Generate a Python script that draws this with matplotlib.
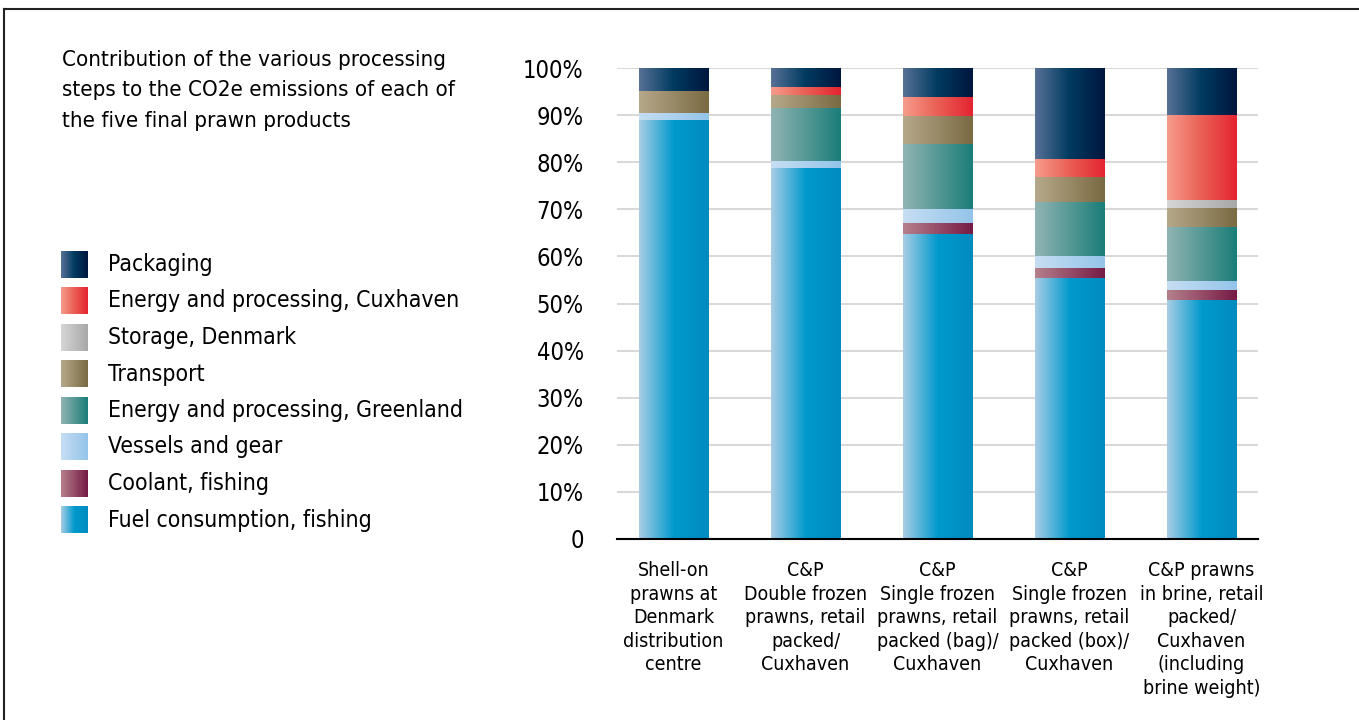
import numpy as np
import matplotlib
matplotlib.use('Agg')
import matplotlib.pyplot as plt
from matplotlib import font_manager as fm
from matplotlib.colors import LinearSegmentedColormap

names = {f.name for f in fm.fontManager.ttflist}
if 'Liberation Sans Narrow' in names:
    plt.rcParams['font.family'] = ['Liberation Sans Narrow', 'DejaVu Sans']
else:
    plt.rcParams['font.family'] = ['DejaVu Sans']
    plt.rcParams['font.stretch'] = 'condensed'

products = ['Shell-on\nprawns at\nDenmark\ndistribution\ncentre',
            'C&P\nDouble frozen\nprawns, retail\npacked/\nCuxhaven',
            'C&P\nSingle frozen\nprawns, retail\npacked (bag)/\nCuxhaven',
            'C&P\nSingle frozen\nprawns, retail\npacked (box)/\nCuxhaven',
            'C&P prawns\nin brine, retail\npacked/\nCuxhaven\n(including\nbrine weight)']

# stacked bottom -> top, percent
fuel       = [89.0, 78.8, 64.8, 55.4, 50.7]
coolant    = [0.0, 0.0, 2.3, 2.1, 2.1]
vessels    = [1.5, 1.5, 3.0, 2.6, 2.0]
greenland  = [0.0, 11.2, 13.8, 11.5, 11.5]
transport  = [4.7, 2.8, 6.0, 5.3, 4.0]
storage    = [0.0, 0.0, 0.0, 0.0, 1.7]
cuxhaven   = [0.0, 1.7, 4.0, 3.8, 18.1]
packaging  = [4.8, 4.0, 6.1, 19.3, 9.9]

series = [
    ('Fuel consumption, fishing', fuel, ['#a8cde6', '#0099cc', '#008bc0']),
    ('Coolant, fishing', coolant, ['#b5808c', '#761a44']),
    ('Vessels and gear', vessels, ['#c6def3', '#94c4e9']),
    ('Energy and processing, Greenland', greenland, ['#91b4b3', '#1a7d78']),
    ('Transport', transport, ['#b6a98b', '#7a6a42']),
    ('Storage, Denmark', storage, ['#d6d6d6', '#a8a8a8']),
    ('Energy and processing, Cuxhaven', cuxhaven, ['#f69c8c', '#ea5e54', '#e42431']),
    ('Packaging', packaging, ['#587196', '#003a60', '#00163e']),
]

fig = plt.figure(figsize=(13.59, 7.2), dpi=100)
ax = fig.add_axes([617/1359, 181/720, 641/1359, 471/720])

x = np.arange(len(products))
width = 0.523
bottom = np.zeros(len(products))
grad = np.linspace(0, 1, 256).reshape(1, -1)
for name, vals, cols in series:
    cmap = LinearSegmentedColormap.from_list(name, cols)
    bars = ax.bar(x, vals, width, bottom=bottom, color='none', edgecolor='none', zorder=3)
    for b in bars:
        if b.get_height() <= 0:
            continue
        x0, y0 = b.get_x(), b.get_y()
        ax.imshow(grad, cmap=cmap, aspect='auto', zorder=3,
                  extent=(x0, x0 + b.get_width(), y0, y0 + b.get_height()))
    bottom += np.array(vals)

ax.set_xlim(-0.428, 4.428)
ax.set_ylim(0, 100)
ax.set_yticks(np.arange(0, 101, 10))
ax.set_yticklabels(['0'] + [f'{v}%' for v in range(10, 101, 10)], fontsize=17)
ax.set_xticks(x)
ax.set_xticklabels(products, fontsize=14, linespacing=1.3, va='top')
ax.tick_params(axis='both', length=0)
ax.tick_params(axis='y', pad=24)
ax.tick_params(axis='x', pad=16)
ax.grid(axis='y', color='#d9d9d9', lw=1.5, zorder=0)
for s in ['top', 'right', 'left']:
    ax.spines[s].set_visible(False)
ax.spines['bottom'].set_color('black')
ax.spines['bottom'].set_linewidth(1.5)
ax.spines['bottom'].set_zorder(4)

# overlay for frame, title and legend in pixel coordinates
ov = fig.add_axes([0, 0, 1, 1], zorder=-1)
ov.axis('off')
ov.plot([4, 1359], [9, 9], color='#222222', lw=1.5)
ov.plot([4, 4], [9, 720], color='#222222', lw=1.5)

ov.text(62, 50, 'Contribution of the various processing\nsteps to the CO2e emissions of each of\nthe five final prawn products',
        fontsize=16, va='top', ha='left', linespacing=1.65)

legend_order = series[::-1]
for i, (name, vals, cols) in enumerate(legend_order):
    cmap = LinearSegmentedColormap.from_list(name + '_leg', cols)
    y0 = 251 + i * 36.5
    ov.imshow(grad, cmap=cmap, aspect='auto', extent=(61, 88, y0 + 27, y0))
    ov.text(108, y0 + 13.5, name, fontsize=16.5, va='center', ha='left')
ov.set_xlim(0, 1359)
ov.set_ylim(720, 0)

fig.savefig('out.png', dpi=100)
